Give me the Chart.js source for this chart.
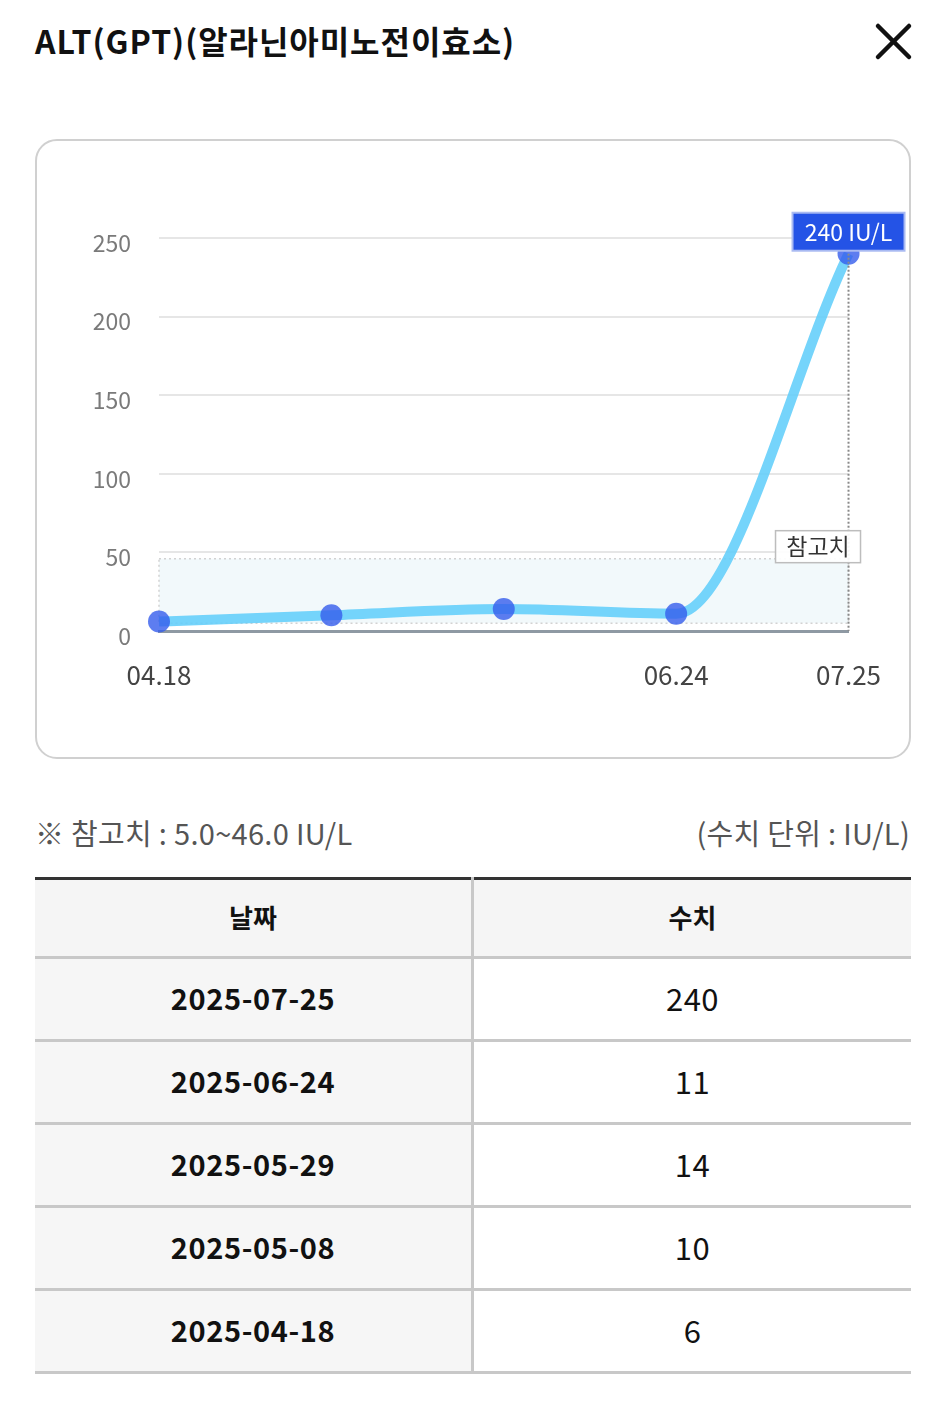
<!DOCTYPE html>
<html><head><meta charset="utf-8">
<script src="https://cdn.jsdelivr.net/npm/chart.js@4.4.1/dist/chart.umd.min.js"></script>
<style>
html,body{margin:0;padding:0;background:#fff;}
body{width:946px;height:1409px;position:relative;overflow:hidden;font-family:"Noto Sans CJK KR","Noto Sans",sans-serif;color:#111;}
.title{position:absolute;left:35px;top:15px;font-size:32px;font-weight:700;letter-spacing:0.95px;line-height:50px;white-space:nowrap;}
.close{position:absolute;left:874px;top:22px;width:40px;height:40px;}
.card{position:absolute;left:35px;top:139px;width:872px;height:616px;border:2px solid #d0d0d0;border-radius:22px;box-sizing:content-box;}
#wrap{position:absolute;left:36px;top:140px;width:874px;height:618px;}
.note{position:absolute;left:35px;top:809px;font-size:29px;color:#555;line-height:46px;white-space:nowrap;letter-spacing:0.3px;}
.unit{position:absolute;right:36px;top:809px;font-size:29px;color:#555;line-height:46px;white-space:nowrap;letter-spacing:0.3px;}
table{position:absolute;left:35px;top:877px;width:876px;border-collapse:collapse;border-top:3px solid #333;table-layout:fixed;}
td,th{height:80px;padding:0;text-align:center;border-bottom:3px solid #c8c8c8;}
th{height:76px;background:#f5f5f5;font-size:26px;font-weight:700;color:#111;}
td.d{background:#f6f6f6;font-size:29px;font-weight:700;color:#111;letter-spacing:0.6px;}
td.v{background:#fff;font-size:31px;font-weight:400;color:#111;letter-spacing:0.5px;}
td span,th span{position:relative;top:-2px;}
.c1{border-right:3px solid #c8c8c8;width:436px;}
</style>
</head><body>
<div class="title">ALT(GPT)(알라닌아미노전이효소)</div>
<svg class="close" viewBox="0 0 40 40"><line x1="4" y1="4" x2="35" y2="35" stroke="#111" stroke-width="4.5" stroke-linecap="round"/><line x1="35" y1="4" x2="4" y2="35" stroke="#111" stroke-width="4.5" stroke-linecap="round"/></svg>
<div class="card"></div>
<div id="wrap"><canvas id="c"></canvas></div>
<div class="note" id="note"></div>
<div class="unit" id="unit"></div>
<table id="tbl"></table>
<script>
// ---- data ----
const dates = ['2025-04-18','2025-05-08','2025-05-29','2025-06-24','2025-07-25'];
const values = [6, 10, 14, 11, 240];
const catLabels = ['04.18','05.08','05.29','06.24','07.25'];
const shownTickLabels = ['04.18','06.24','07.25'];
const yTicks = [0, 50, 100, 150, 200, 250];
const refLow = 5.0;
const refHigh = 46.0;
const unit = 'IU/L';
const refText = '참고치';

document.getElementById('note').textContent = '※ 참고치 : ' + refLow.toFixed(1) + '~' + refHigh.toFixed(1) + ' ' + unit;
document.getElementById('unit').textContent = '(수치 단위 : ' + unit + ')';

// table (latest first)
const tbl = document.getElementById('tbl');
let html = '<tr><th class="c1"><span>날짜</span></th><th><span>수치</span></th></tr>';
for (let i = dates.length - 1; i >= 0; i--) {
  html += '<tr><td class="d c1"><span>' + dates[i] + '</span></td><td class="v"><span>' + values[i] + '</span></td></tr>';
}
tbl.innerHTML = html;

Chart.defaults.font.family = '"Noto Sans CJK KR","Noto Sans",sans-serif';

const refBand = {
  id: 'refBand',
  beforeDatasetsDraw(chart) {
    const {ctx, chartArea: a, scales: {y}} = chart;
    const yT = y.getPixelForValue(refHigh), yB = y.getPixelForValue(refLow);
    ctx.save();
    ctx.fillStyle = '#f2f9fb';
    ctx.fillRect(a.left, yT, a.right - a.left, yB - yT);
    ctx.setLineDash([2, 3]);
    ctx.strokeStyle = '#d2d2d2';
    ctx.lineWidth = 1.5;
    ctx.strokeRect(a.left, yT, a.right - a.left, yB - yT);
    ctx.restore();
  }
};

const overlays = {
  id: 'overlays',
  afterDatasetsDraw(chart) {
    const {ctx, chartArea: a, scales: {x, y}} = chart;
    const meta = chart.getDatasetMeta(0);
    const last = meta.data[meta.data.length - 1];
    ctx.save();
    // vertical dotted line at last point
    ctx.setLineDash([2, 2]);
    ctx.strokeStyle = '#8a8a8a';
    ctx.lineWidth = 2;
    ctx.beginPath();
    ctx.moveTo(last.x, last.y);
    ctx.lineTo(last.x, a.bottom);
    ctx.stroke();
    ctx.setLineDash([]);
    // reference label
    const yT = y.getPixelForValue(refHigh);
    ctx.font = '23px "Noto Sans CJK KR", sans-serif';
    const bw = 85, bh = 32;
    const bx = a.right + 12 - bw, by = yT - 12 - bh / 2;
    ctx.fillStyle = 'rgba(255,255,255,0.92)';
    ctx.fillRect(bx, by, bw, bh);
    ctx.strokeStyle = '#bdbdbd';
    ctx.lineWidth = 1.5;
    ctx.strokeRect(bx, by, bw, bh);
    ctx.fillStyle = '#333';
    ctx.textAlign = 'center';
    ctx.textBaseline = 'middle';
    ctx.fillText(refText, bx + bw / 2, by + bh / 2);
    // value label for last point
    const txt = values[values.length - 1] + ' ' + unit;
    const lw = 112, lh = 38;
    const lx = last.x - lw / 2, ly = last.y - 3 - lh;
    ctx.fillStyle = '#2453e6';
    ctx.fillRect(lx, ly, lw, lh);
    ctx.strokeStyle = '#a9baf2';
    ctx.lineWidth = 2;
    ctx.strokeRect(lx, ly, lw, lh);
    ctx.fillStyle = '#fff';
    ctx.font = '23px "Noto Sans CJK KR", sans-serif';
    ctx.fillText(txt, last.x, ly + lh / 2 + 1);
    ctx.restore();
  }
};

new Chart(document.getElementById('c'), {
  type: 'line',
  data: {
    labels: catLabels,
    datasets: [{
      data: values,
      borderColor: 'rgba(98,206,250,0.88)',
      borderWidth: 10,
      pointRadius: 11,
      pointHoverRadius: 11,
      pointBackgroundColor: 'rgba(52,92,236,0.8)',
      pointBorderWidth: 0,
      cubicInterpolationMode: 'monotone',
      fill: false,
      clip: false
    }]
  },
  options: {
    responsive: true,
    maintainAspectRatio: false,
    animation: false,
    devicePixelRatio: 1,
    layout: {padding: {top: 98, right: 55, left: 33, bottom: 0}},
    plugins: {legend: {display: false}, tooltip: {enabled: false}},
    events: [],
    scales: {
      x: {
        offset: false,
        grid: {display: false, drawTicks: false},
        border: {display: true, color: '#8e99a3', width: 3},
        ticks: {
          autoSkip: false, maxRotation: 0, padding: 29, color: '#444',
          font: {size: 26},
          callback: (v, i) => shownTickLabels.includes(catLabels[i]) ? catLabels[i] : ''
        },
        afterFit: (ax) => { ax.height = 127; }
      },
      y: {
        min: yTicks[0], max: yTicks[yTicks.length - 1],
        afterBuildTicks: (ax) => { ax.ticks = yTicks.map(v => ({value: v})); },
        grid: {color: '#e6e6e6', lineWidth: 2, drawTicks: false},
        border: {display: false},
        ticks: {padding: 28, color: '#7a7a7a', font: {size: 23}, labelOffset: 5},
        afterFit: (ax) => { ax.width = 90; }
      }
    }
  },
  plugins: [refBand, overlays]
});
</script>
</body></html>
